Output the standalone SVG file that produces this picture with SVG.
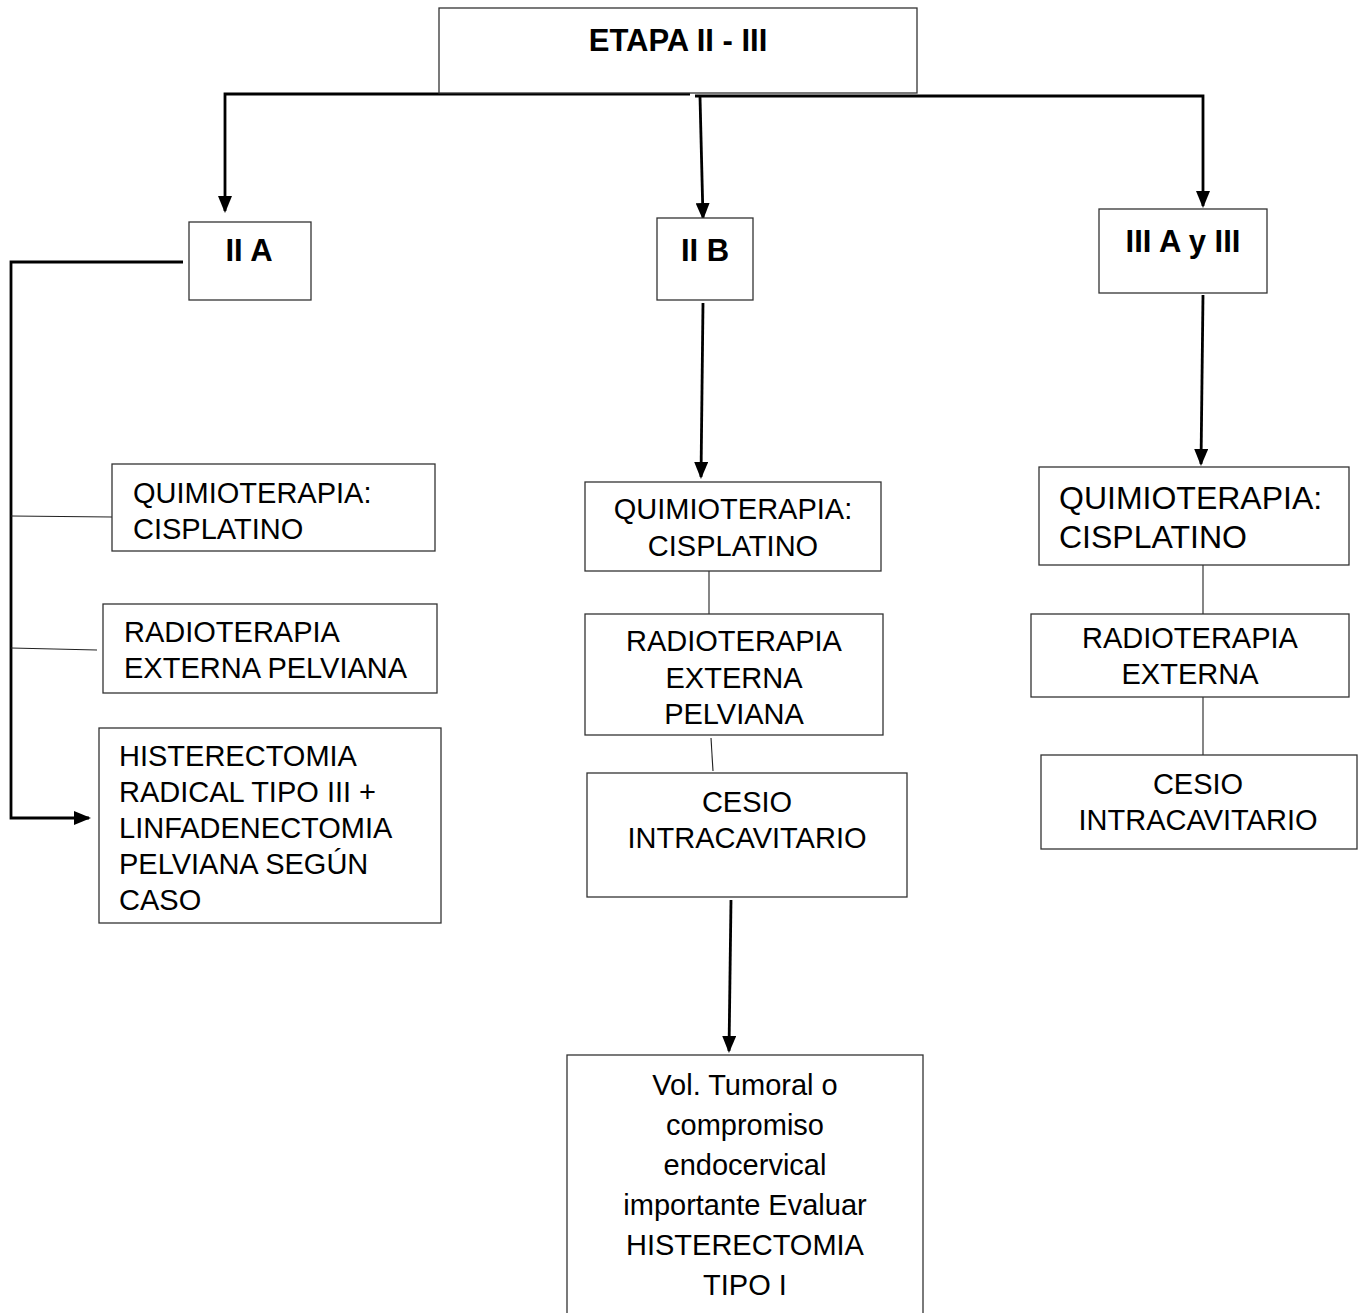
<svg xmlns="http://www.w3.org/2000/svg" width="1364" height="1313" viewBox="0 0 1364 1313">
  <style>
    .box { fill: #ffffff; stroke: #333333; stroke-width: 1.3; }
    .t { font-family: "Liberation Sans", Arial, sans-serif; font-size: 29px; fill: #000000; }
    .tl { font-size: 32px; }
    .b { font-weight: bold; font-size: 31px; }
    .c { text-anchor: middle; }
    .flow { fill: none; stroke: #000000; stroke-width: 2.8; }
    .link { fill: none; stroke: #222222; stroke-width: 1.1; }
  </style>
  <defs>
    <marker id="arrow" markerWidth="17" markerHeight="14" refX="15" refY="7" orient="auto" markerUnits="userSpaceOnUse" viewBox="0 0 17 14">
      <path d="M0,0 L17,7 L0,14 Z" fill="#000000"/>
    </marker>
  </defs>
  <rect width="1364" height="1313" fill="#ffffff"/>

  <!-- connectors -->
  <g id="connectors">
    <path class="flow" d="M690,94 H225 V211" marker-end="url(#arrow)"/>
    <path class="flow" d="M695,96 H1203 V206" marker-end="url(#arrow)"/>
    <path class="flow" d="M700,97 L703,218" marker-end="url(#arrow)"/>
    <path class="flow" d="M183,262 H11 V818 H89" marker-end="url(#arrow)"/>
    <path class="link" d="M11,516 L112,517"/>
    <path class="link" d="M11,648 L97,650"/>
    <path class="flow" d="M703,303 L701,477" marker-end="url(#arrow)"/>
    <path class="link" d="M709,571 V614"/>
    <path class="link" d="M711,738 L713,771"/>
    <path class="flow" d="M731,900 L729,1051" marker-end="url(#arrow)"/>
    <path class="flow" d="M1203,295 L1201,464" marker-end="url(#arrow)"/>
    <path class="link" d="M1203,565 V614"/>
    <path class="link" d="M1203,697 V755"/>
  </g>

  <!-- root -->
  <g id="etapa">
    <rect class="box" x="439" y="8" width="478" height="85"/>
    <text class="t b c" x="678" y="51">ETAPA II - III</text>
  </g>

  <!-- stage II A -->
  <g id="iia">
    <rect class="box" x="189" y="222" width="122" height="78"/>
    <text class="t b c" x="249" y="261">II A</text>
  </g>
  <g id="iia-quimio">
    <rect class="box" x="112" y="464" width="323" height="87"/>
    <text class="t" x="133" y="503">QUIMIOTERAPIA:</text>
    <text class="t" x="133" y="539">CISPLATINO</text>
  </g>
  <g id="iia-radio">
    <rect class="box" x="103" y="604" width="334" height="89"/>
    <text class="t" x="124" y="642">RADIOTERAPIA</text>
    <text class="t" x="124" y="678">EXTERNA PELVIANA</text>
  </g>
  <g id="iia-cirugia">
    <rect class="box" x="99" y="728" width="342" height="195"/>
    <text class="t" x="119" y="766">HISTERECTOMIA</text>
    <text class="t" x="119" y="802">RADICAL TIPO III +</text>
    <text class="t" x="119" y="838">LINFADENECTOMIA</text>
    <text class="t" x="119" y="874">PELVIANA SEGÚN</text>
    <text class="t" x="119" y="910">CASO</text>
  </g>

  <!-- stage II B -->
  <g id="iib">
    <rect class="box" x="657" y="218" width="96" height="82"/>
    <text class="t b c" x="705" y="261">II B</text>
  </g>
  <g id="iib-quimio">
    <rect class="box" x="585" y="482" width="296" height="89"/>
    <text class="t c" x="733" y="519">QUIMIOTERAPIA:</text>
    <text class="t c" x="733" y="556">CISPLATINO</text>
  </g>
  <g id="iib-radio">
    <rect class="box" x="585" y="614" width="298" height="121"/>
    <text class="t c" x="734" y="651">RADIOTERAPIA</text>
    <text class="t c" x="734" y="688">EXTERNA</text>
    <text class="t c" x="734" y="724">PELVIANA</text>
  </g>
  <g id="iib-cesio">
    <rect class="box" x="587" y="773" width="320" height="124"/>
    <text class="t c" x="747" y="812">CESIO</text>
    <text class="t c" x="747" y="848">INTRACAVITARIO</text>
  </g>
  <g id="iib-evaluar">
    <rect class="box" x="567" y="1055" width="356" height="270"/>
    <text class="t c" x="745" y="1095">Vol. Tumoral o</text>
    <text class="t c" x="745" y="1135">compromiso</text>
    <text class="t c" x="745" y="1175">endocervical</text>
    <text class="t c" x="745" y="1215">importante Evaluar</text>
    <text class="t c" x="745" y="1255">HISTERECTOMIA</text>
    <text class="t c" x="745" y="1295">TIPO I</text>
  </g>

  <!-- stage III A y III -->
  <g id="iii">
    <rect class="box" x="1099" y="209" width="168" height="84"/>
    <text class="t b c" x="1183" y="252">III A y III</text>
  </g>
  <g id="iii-quimio">
    <rect class="box" x="1039" y="467" width="310" height="98"/>
    <text class="t tl" x="1059" y="509">QUIMIOTERAPIA:</text>
    <text class="t tl" x="1059" y="548">CISPLATINO</text>
  </g>
  <g id="iii-radio">
    <rect class="box" x="1031" y="614" width="318" height="83"/>
    <text class="t c" x="1190" y="648">RADIOTERAPIA</text>
    <text class="t c" x="1190" y="684">EXTERNA</text>
  </g>
  <g id="iii-cesio">
    <rect class="box" x="1041" y="755" width="316" height="94"/>
    <text class="t c" x="1198" y="794">CESIO</text>
    <text class="t c" x="1198" y="830">INTRACAVITARIO</text>
  </g>
</svg>
